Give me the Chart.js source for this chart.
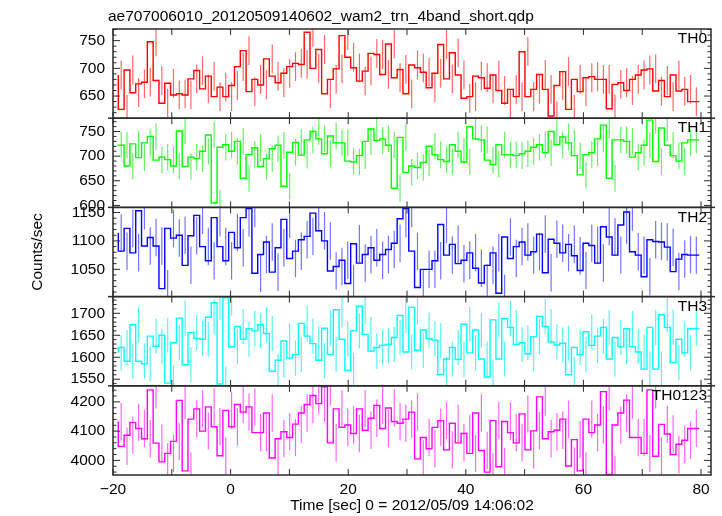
<!DOCTYPE html>
<html>
<head>
<meta charset="utf-8">
<script src="https://cdn.jsdelivr.net/npm/chart.js@4/dist/chart.umd.min.js"></script>
<style>
  html, body { margin: 0; padding: 0; background: #fff; }
  #wrap { width: 722px; height: 516px; }
</style>
</head>
<body>
<div id="wrap"><canvas id="lc" width="722" height="516"></canvas></div>
<script>
// light curve, 1 s bins, five energy bands
const titleText = "ae707006010_20120509140602_wam2_trn_4band_short.qdp";
const xTitle = "Time [sec] 0 = 2012/05/09 14:06:02";
const yTitle = "Counts/sec";

const binStart = -19.1;
const binWidth = 0.988;

const bandNames = ["TH0", "TH1", "TH2", "TH3", "TH0123"];

const th0 = [688,626,697,656,672,675,748,678,637,673, 652,654,652,681,696,663,686,649,666,649,
  669,703,732,658,680,670,717,686,674,691, 703,709,707,765,700,734,654,680,699,759,
  720,701,677,695,727,725,689,744,683,698, 654,706,701,693,665,691,743,681,728,688,
  646,649,686,683,664,688,660,637,662,649, 730,649,662,689,662,614,669,694,626,680,
  658,683,685,680,680,627,671,674,660,680, 688,697,699,659,678,649,688,659,662,640];
const th1 = [723,722,680,725,697,727,740,692,698,693, 680,751,679,698,695,710,743,605,718,723,
  710,730,655,703,717,679,695,715,722,639, 708,728,702,733,750,735,705,741,727,727,
  690,688,701,730,755,732,735,722,635,738, 667,680,677,687,720,703,693,689,723,710,
  688,760,735,733,692,683,723,703,703,701, 705,710,718,723,707,750,723,739,727,701,
  662,703,707,735,763,655,733,733,730,698, 707,722,773,689,757,722,701,690,727,733];
const th2 = [1114,1082,1122,1079,1153,1091,1106,1091,1016,1122, 1105,1110,1057,1109,1145,1090,1065,1141,1090,1065,
  1115,1088,1141,1157,1043,1076,1098,1045,1088,1138, 1069,1082,1102,1108,1149,1118,1100,1047,1055,1066,
  1025,1095,1061,1076,1088,1066,1076,1085,1096,1139, 1157,1082,1018,1050,1050,1065,1129,1075,1094,1060,
  1066,1079,1052,1026,1057,1079,1008,1107,1069,1090, 1098,1075,1081,1112,1044,1103,1096,1079,1094,1074,
  1048,1096,1092,1061,1125,1107,1075,1128,1151,1081, 1075,1037,1102,1099,1098,1089,1046,1068,1076,1075];
const th3 = [1610,1622,1591,1674,1591,1585,1648,1625,1650,1541, 1633,1689,1583,1656,1643,1641,1691,1724,1539,1735,
  1624,1670,1641,1665,1660,1674,1654,1568,1593,1637, 1598,1606,1677,1648,1631,1593,1666,1606,1708,1641,
  1570,1660,1716,1652,1614,1622,1627,1629,1645,1695, 1612,1714,1616,1662,1642,1639,1561,1596,1622,1595,
  1675,1610,1662,1596,1555,1685,1596,1688,1668,1629, 1633,1608,1647,1693,1670,1635,1628,1632,1560,1622,
  1606,1658,1627,1648,1668,1596,1645,1624,1665,1624, 1612,1573,1668,1573,1697,1668,1588,1641,1610,1665];
const th0123 = [4133,4048,4086,4130,4109,4074,4241,4059,3995,4024, 4065,4205,3964,4141,4176,4100,4183,4115,4016,4171,
  4115,4191,4165,4183,4095,4095,4162,4008,4074,4098, 4078,4124,4162,4191,4222,4194,4252,4060,4176,4113,
  4121,4092,4176,4103,4144,4188,4109,4179,4133,4127, 4141,4165,4005,4078,4040,4113,4136,4036,4127,4060,
  4092,4024,4162,4034,3960,4136,3978,4133,4095,4060, 4159,4036,4101,4217,4074,4098,4103,4141,3981,4071,
  3964,4141,4095,4121,4235,3952,4121,4162,4206,4078, 4078,4024,4241,4014,4123,4090,4020,4055,4069,4109];

const bandRates = [th0, th1, th2, th3, th0123];
const bandErrors = [26, 27, 33, 40, 64];

const yMins = [610, 596, 1002, 1535, 3950];
const yMaxs = [771, 777, 1159, 1738, 4255];
const yMajor = [50, 50, 50, 50, 100];
const yMinor = [10, 10, 10, 10, 20];

const xMin = -20;
const xMax = 81.7;
const xLabelStep = 20;
const xTickStep = 10;

const bandColors = ["#ff0000", "#00ff00", "#0000ff", "#00ffff", "#ff00ff"];
const barColors = ["rgba(255,0,0,0.6)", "rgba(0,230,0,0.6)", "rgba(0,0,255,0.55)", "rgba(0,235,235,0.65)", "rgba(255,0,255,0.6)"];
const fontFamily = "'Liberation Sans', Arial, sans-serif";
const fontSize = 15.5;

Chart.defaults.font.family = fontFamily;
Chart.defaults.font.size = fontSize;
Chart.defaults.color = "#000";

const datasets = [];
bandRates.forEach((rates, b) => {
  const axisId = "y" + b;
  const err = bandErrors[b];
  const bars = [];
  rates.forEach((v, i) => {
    const t = binStart + (i + 0.5) * binWidth;
    bars.push({ x: t, y: v - err }, { x: t, y: v + err }, { x: t, y: null });
  });
  const steps = rates.map((v, i) => ({ x: binStart + i * binWidth, y: v }));
  steps.push({ x: binStart + rates.length * binWidth, y: rates[rates.length - 1] });
  datasets.push({
    data: bars, yAxisID: axisId, borderColor: barColors[b], borderWidth: 1.2,
    pointRadius: 0, spanGaps: false, tension: 0,
  });
  datasets.push({
    data: steps, yAxisID: axisId, borderColor: bandColors[b], borderWidth: 1.4,
    pointRadius: 0, stepped: "after",
  });
});

// explicit tick values so chart.js keeps round numbers on every panel
const roundTicks = (step) => (scale) => {
  const out = [];
  for (let v = Math.ceil(scale.min / step) * step; v <= scale.max; v += step) out.push({ value: v });
  scale.ticks = out;
};

const scales = {
  x: {
    type: "linear",
    position: "bottom",
    min: xMin,
    max: xMax,
    grid: { display: false, drawTicks: false },
    border: { display: false },
    afterBuildTicks: roundTicks(xLabelStep),
    ticks: {
      autoSkip: false,
      maxRotation: 0,
      padding: 5,
      callback: (v) => String(v).replace("-", "\u2212"),
    },
    title: { display: true, text: xTitle, padding: { top: 0, bottom: 1 } },
    afterFit: (s) => { s.height = 41; },
  },
};
bandNames.forEach((name, b) => {
  scales["y" + b] = {
    type: "linear",
    position: "left",
    stack: "bands",
    stackWeight: 1,
    weight: bandNames.length - b,
    offset: false,
    min: yMins[b],
    max: yMaxs[b],
    grid: { display: false, drawTicks: false },
    border: { display: false },
    afterBuildTicks: roundTicks(yMajor[b]),
    ticks: {
      autoSkip: false,
      padding: 8,
      callback: (v) => String(v),
    },
    afterFit: (s) => { s.width = 113; },
  };
});

const line = (ctx, x1, y1, x2, y2) => {
  ctx.beginPath();
  ctx.moveTo(x1, y1);
  ctx.lineTo(x2, y2);
  ctx.stroke();
};

const panelDecor = {
  id: "panelDecor",
  beforeDatasetDraw(chart, args) {
    const ys = chart.scales[args.meta.yAxisID];
    const a = chart.chartArea;
    const ctx = chart.ctx;
    ctx.save();
    ctx.beginPath();
    ctx.rect(a.left, ys.top, a.right - a.left, ys.bottom - ys.top);
    ctx.clip();
  },
  afterDatasetDraw(chart) {
    chart.ctx.restore();
  },
  afterDraw(chart) {
    const ctx = chart.ctx;
    const a = chart.chartArea;
    const xs = chart.scales.x;
    ctx.save();
    bandNames.forEach((name, b) => {
      const ys = chart.scales["y" + b];
      ctx.strokeStyle = "#2a2a2a";
      ctx.lineWidth = 1;
      for (let t = Math.ceil(xMin / xTickStep) * xTickStep; t <= xMax; t += xTickStep) {
        const px = xs.getPixelForValue(t);
        line(ctx, px, ys.top, px, ys.top + 6);
        line(ctx, px, ys.bottom, px, ys.bottom - 6);
      }
      for (let v = Math.ceil(ys.min / yMinor[b]) * yMinor[b]; v <= ys.max; v += yMinor[b]) {
        const py = ys.getPixelForValue(v);
        const len = v % yMajor[b] === 0 ? 7 : 3.5;
        line(ctx, a.left, py, a.left + len, py);
        line(ctx, a.right, py, a.right - len, py);
      }
      ctx.lineWidth = 1.5;
      ctx.strokeRect(a.left, ys.top, a.right - a.left, ys.bottom - ys.top);
      if (b > 0) {
        line(ctx, a.left - 5, ys.top, a.left, ys.top);
        line(ctx, a.right, ys.top, a.right + 4, ys.top);
      }
      ctx.fillStyle = "#000";
      ctx.font = fontSize + "px " + fontFamily;
      ctx.textAlign = "right";
      ctx.textBaseline = "middle";
      ctx.fillText(name, a.right - 4, ys.top + 10);
    });

    ctx.fillStyle = "#000";
    ctx.font = fontSize + "px " + fontFamily;
    ctx.textAlign = "left";
    ctx.textBaseline = "alphabetic";
    ctx.fillText(titleText, 108, 21);

    ctx.translate(38, (a.top + a.bottom) / 2);
    ctx.rotate(-Math.PI / 2);
    ctx.textAlign = "center";
    ctx.textBaseline = "middle";
    ctx.fillText(yTitle, 0, 0);
    ctx.restore();
  },
};

new Chart(document.getElementById("lc"), {
  type: "line",
  data: { datasets },
  options: {
    responsive: false,
    animation: false,
    devicePixelRatio: 1,
    events: [],
    layout: { padding: { top: 29, right: 11, left: 0, bottom: 0 } },
    plugins: { legend: { display: false }, tooltip: { enabled: false }, title: { display: false } },
    scales,
  },
  plugins: [panelDecor],
});
</script>
</body>
</html>
